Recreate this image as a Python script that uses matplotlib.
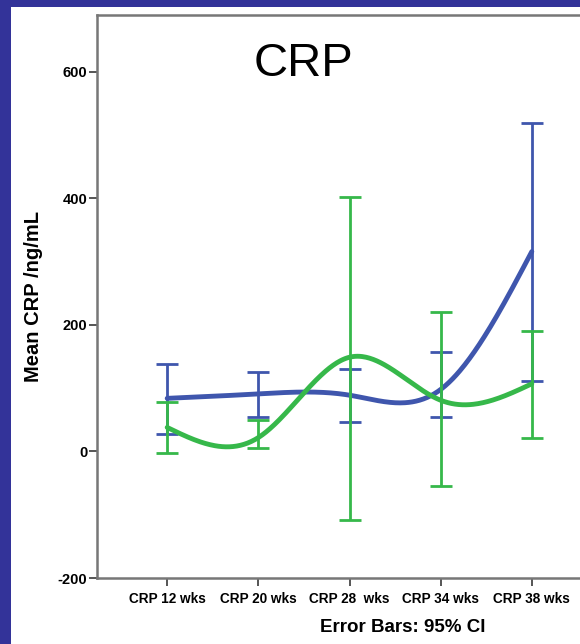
import matplotlib
matplotlib.use('Agg')
import matplotlib.pyplot as plt
import numpy as np

# values
weeks = ['CRP 12 wks', 'CRP 20 wks', 'CRP 28  wks', 'CRP 34 wks', 'CRP 38 wks']
blue_mean = [84, 91, 89, 98, 316]
blue_low = [27, 55, 47, 54, 112]
blue_high = [139, 125, 130, 157, 520]
green_mean = [38, 22, 149, 81, 107]
green_low = [-3, 5, -108, -55, 21]
green_high = [79, 50, 403, 220, 191]

BLUE = '#3f56ad'
GREEN = '#36b84a'


def natural_spline(x, y, xs):
    x = np.asarray(x, float)
    y = np.asarray(y, float)
    n = len(x)
    h = np.diff(x)
    A = np.zeros((n, n))
    b = np.zeros(n)
    A[0, 0] = 1
    A[-1, -1] = 1
    for i in range(1, n - 1):
        A[i, i - 1] = h[i - 1]
        A[i, i] = 2 * (h[i - 1] + h[i])
        A[i, i + 1] = h[i]
        b[i] = 6 * ((y[i + 1] - y[i]) / h[i] - (y[i] - y[i - 1]) / h[i - 1])
    M = np.linalg.solve(A, b)
    out = np.empty_like(xs)
    for k, t in enumerate(xs):
        i = min(np.searchsorted(x, t, side='right') - 1, n - 2)
        i = max(i, 0)
        a = x[i + 1] - t
        c = t - x[i]
        out[k] = (M[i] * a**3 + M[i + 1] * c**3) / (6 * h[i]) \
            + (y[i] / h[i] - M[i] * h[i] / 6) * a \
            + (y[i + 1] / h[i] - M[i + 1] * h[i] / 6) * c
    return out


plt.rcParams['font.family'] = ['Liberation Sans', 'DejaVu Sans']
plt.rcParams['axes.unicode_minus'] = False

fig = plt.figure(figsize=(5.8, 6.44), dpi=100, facecolor='#333399')
fig.patches.append(plt.Rectangle((11 / 580, 0), 1, 1 - 7 / 644,
                                 transform=fig.transFigure,
                                 facecolor='white', edgecolor='none', zorder=-5))

ax = fig.add_axes([97 / 580, 66 / 644, 505 / 580, 563 / 644])
ax.set_facecolor('white')

xpos = np.arange(len(weeks))
xs = np.linspace(0, len(weeks) - 1, 300)

for mean, lo, hi, col in [(blue_mean, blue_low, blue_high, BLUE),
                          (green_mean, green_low, green_high, GREEN)]:
    mean = np.array(mean)
    yerr = [mean - np.array(lo), np.array(hi) - mean]
    ax.errorbar(xpos, mean, yerr=yerr, fmt='none', ecolor=col,
                elinewidth=2, capsize=8, capthick=2)
    ax.plot(xs, natural_spline(xpos, mean, xs), color=col, lw=3.5,
            solid_capstyle='round')

ax.set_xlim(-0.77, 4.77)
ax.set_ylim(-200, 690)
ax.set_yticks([-200, 0, 200, 400, 600])
ax.set_xticks(xpos)
ax.set_xticklabels(weeks, fontsize=9.8, fontweight='bold')
ax.tick_params(axis='y', labelsize=10.5, length=6, width=1.4, pad=1, colors='#555555',
               labelcolor='black')
ax.tick_params(axis='x', length=6, width=1.4, pad=4, colors='#555555',
               labelcolor='black')
for t in ax.get_yticklabels():
    t.set_fontweight('bold')
for s in ax.spines.values():
    s.set_color('#777777')
    s.set_linewidth(1.8)

fig.text(304 / 580, 1 - 64 / 644, 'CRP', fontsize=34, ha='center', va='center')
fig.text(34 / 580, 1 - 296 / 644, 'Mean CRP /ng/mL', fontsize=14.5, fontweight='bold',
         rotation=90, ha='center', va='center')
fig.text(403 / 580, 1 - 628 / 644, 'Error Bars: 95% CI', fontsize=13.5,
         fontweight='bold', ha='center', va='center')

fig.savefig('out.png', dpi=100, facecolor=fig.get_facecolor())
